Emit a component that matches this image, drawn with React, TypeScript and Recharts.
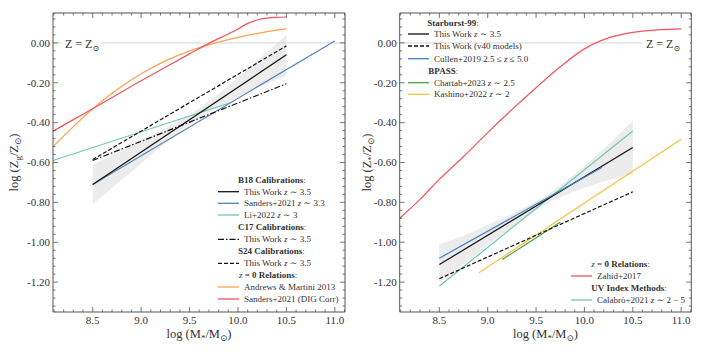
import React from 'react';
import { ComposedChart, Line, Area, XAxis, YAxis, ReferenceLine } from 'recharts';

// ---------- shared axes ----------
const xDomain: [number, number] = [8.09, 11.105];
const yDomain: [number, number] = [-1.35, 0.15];
const xMajorTicks = [8.5, 9.0, 9.5, 10.0, 10.5, 11.0];
const yMajorTicks = [-1.2, -1.0, -0.8, -0.6, -0.4, -0.2, 0.0];
const xMinorTicks = Array.from({ length: 31 }, (_, i) => Math.round((8.1 + i * 0.1) * 100) / 100);
const yMinorTicks = Array.from({ length: 37 }, (_, i) => Math.round((-1.32 + i * 0.04) * 100) / 100);

// ---------- left panel (gas-phase) ----------
const sandersDigX = [8.09, 8.3, 8.5, 8.75, 9.0, 9.25, 9.5, 9.75, 9.9, 10.0, 10.1, 10.2, 10.3, 10.4, 10.5];
const sandersDigY = [-0.443, -0.385, -0.33, -0.26, -0.19, -0.122, -0.055, 0.01, 0.045, 0.07, 0.098, 0.115, 0.124, 0.128, 0.13];
const andrewsX = [8.09, 8.3, 8.5, 8.75, 9.0, 9.25, 9.5, 9.75, 10.0, 10.25, 10.5];
const andrewsY = [-0.52, -0.42, -0.33, -0.235, -0.155, -0.09, -0.04, -0.002, 0.028, 0.052, 0.07];
const li2022X = [8.09, 9.92];
const li2022Y = [-0.59, -0.3];
const sanders33X = [8.5, 11.0];
const sanders33Y = [-0.71, 0.01];
const b18X = [8.5, 10.5];
const b18Y = [-0.71, -0.06];
const c17X = [8.5, 10.5];
const c17Y = [-0.59, -0.205];
const s24X = [8.5, 10.5];
const s24Y = [-0.585, -0.015];
const bandLeftX = [8.5, 8.75, 9.0, 9.25, 9.5, 9.6, 9.75, 10.0, 10.25, 10.5];
const bandLeftLo = [-0.81, -0.707, -0.605, -0.504, -0.411, -0.376, -0.334, -0.273, -0.215, -0.165];
const bandLeftHi = [-0.61, -0.551, -0.49, -0.428, -0.359, -0.328, -0.274, -0.173, -0.067, 0.04];

// ---------- right panel (stellar) ----------
const zahidX = [8.09, 8.3, 8.5, 8.75, 9.0, 9.25, 9.5, 9.75, 10.0, 10.25, 10.5, 10.75, 11.0];
const zahidY = [-0.88, -0.785, -0.685, -0.57, -0.45, -0.335, -0.225, -0.12, -0.03, 0.025, 0.053, 0.065, 0.07];
const sb99X = [8.5, 10.5];
const sb99Y = [-1.112, -0.525];
const v40X = [8.5, 10.5];
const v40Y = [-1.183, -0.747];
const cullenX = [8.5, 10.18];
const cullenY = [-1.08, -0.625];
const calabroX = [8.5, 10.5];
const calabroY = [-1.22, -0.442];
const kashinoX = [8.91, 11.0];
const kashinoY = [-1.153, -0.483];
const chartabX = [9.15, 9.75];
const chartabY = [-1.087, -0.9];
const bandRightX = [8.5, 8.75, 9.0, 9.25, 9.5, 9.6, 9.75, 10.0, 10.25, 10.5];
const bandRightLo = [-1.2, -1.111, -1.017, -0.926, -0.842, -0.811, -0.775, -0.727, -0.688, -0.66];
const bandRightHi = [-1.01, -0.967, -0.913, -0.858, -0.794, -0.767, -0.715, -0.617, -0.508, -0.39];

const C = {
  red: '#f0545e',
  orange: '#ffa24d',
  teal: '#72c4b4',
  blueL: '#5484b4',
  blueR: '#3f82c4',
  green: '#3ea63e',
  yellow: '#f6c344',
  black: '#111111',
  axis: '#555555',
  text: '#333333',
};
const FONT = '"Liberation Serif", "DejaVu Serif", serif';

const pts = (xs: number[], ys: number[]) => xs.map((x, i) => ({ x, y: ys[i] }));
const band = (xs: number[], lo: number[], hi: number[]) => xs.map((x, i) => ({ x, r: [lo[i], hi[i]] }));
const isMajor = (v: number, arr: number[]) => arr.some((m) => Math.abs(m - v) < 1e-6);

const MAJ = 5;
const MIN = 2.5;

const BottomTick = (p: any) => {
  const v = p.payload.value;
  const maj = isMajor(v, xMajorTicks);
  return (
    <g>
      <line x1={p.x} x2={p.x} y1={p.y} y2={p.y - (maj ? MAJ : MIN)} stroke={C.axis} strokeWidth={0.8} />
      {maj && (
        <text x={p.x} y={p.y + 11.5} textAnchor="middle" fontSize={11} fill={C.text} fontFamily={FONT}>
          {v.toFixed(1)}
        </text>
      )}
    </g>
  );
};
const TopTick = (p: any) => {
  const v = p.payload.value;
  const maj = isMajor(v, xMajorTicks);
  return <line x1={p.x} x2={p.x} y1={p.y} y2={p.y + (maj ? MAJ : MIN)} stroke={C.axis} strokeWidth={0.8} />;
};
const LeftTick = (p: any) => {
  const v = p.payload.value;
  const maj = isMajor(v, yMajorTicks);
  const label = Math.abs(v) < 1e-9 ? '0.00' : v.toFixed(2);
  return (
    <g>
      <line x1={p.x} x2={p.x + (maj ? MAJ : MIN)} y1={p.y} y2={p.y} stroke={C.axis} strokeWidth={0.8} />
      {maj && (
        <text x={p.x - 3} y={p.y + 3.8} textAnchor="end" fontSize={11} fill={C.text} fontFamily={FONT}>
          {label}
        </text>
      )}
    </g>
  );
};
const RightTick = (p: any) => {
  const v = p.payload.value;
  const maj = isMajor(v, yMajorTicks);
  return <line x1={p.x} x2={p.x - (maj ? MAJ : MIN)} y1={p.y} y2={p.y} stroke={C.axis} strokeWidth={0.8} />;
};

type Series = { data: { x: number; y: number }[]; color: string; dash?: string; curve?: boolean; w?: number };

function Panel(props: {
  left: number;
  margin: { top: number; right: number; bottom: number; left: number };
  bandData: any[];
  series: Series[];
}) {
  const { left, margin, bandData, series } = props;
  return (
    <div style={{ position: 'absolute', left, top: 0 }}>
      <ComposedChart width={353} height={353} margin={margin} data={bandData}>
        <XAxis xAxisId="b" type="number" dataKey="x" domain={xDomain} allowDataOverflow ticks={xMinorTicks} interval={0}
          orientation="bottom" height={1} tickSize={0} tickMargin={0} tickLine={false}
          axisLine={{ stroke: C.axis, strokeWidth: 1 }} tick={BottomTick} />
        <XAxis xAxisId="t" type="number" dataKey="x" domain={xDomain} allowDataOverflow ticks={xMinorTicks} interval={0}
          orientation="top" height={1} tickSize={0} tickMargin={0} tickLine={false}
          axisLine={{ stroke: C.axis, strokeWidth: 1 }} tick={TopTick} />
        <YAxis yAxisId="l" type="number" domain={yDomain} allowDataOverflow ticks={yMinorTicks} interval={0}
          orientation="left" width={1} tickSize={0} tickMargin={0} tickLine={false}
          axisLine={{ stroke: C.axis, strokeWidth: 1 }} tick={LeftTick} />
        <YAxis yAxisId="r" type="number" domain={yDomain} allowDataOverflow ticks={yMinorTicks} interval={0}
          orientation="right" width={1} tickSize={0} tickMargin={0} tickLine={false}
          axisLine={{ stroke: C.axis, strokeWidth: 1 }} tick={RightTick} />
        <ReferenceLine xAxisId="b" yAxisId="l" y={0} stroke="#cfcfcf" strokeWidth={0.9} />
        <Area xAxisId="b" yAxisId="l" dataKey="r" type="monotone" stroke="none" fill="#d9d9d9" fillOpacity={0.5}
          isAnimationActive={false} dot={false} activeDot={false} />
        {series.map((s, i) => (
          <Line key={i} xAxisId="b" yAxisId="l" data={s.data} dataKey="y" type={s.curve ? 'monotone' : 'linear'}
            stroke={s.color} strokeWidth={s.w ?? 1.2} strokeDasharray={s.dash} dot={false} activeDot={false}
            isAnimationActive={false} />
        ))}
      </ComposedChart>
    </div>
  );
}

const Sun = ({ size }: { size: number }) => (
  <tspan dy={size * 0.3} fontSize={size * 0.7}>⊙</tspan>
);

function LegendRow(p: { x: number; y: number; color: string; dash?: string; children: any }) {
  return (
    <g>
      <line x1={p.x} x2={p.x + 21} y1={p.y} y2={p.y} stroke={p.color} strokeWidth={1.3} strokeDasharray={p.dash} />
      <text x={p.x + 26} y={p.y + 3} fontSize={9} fill={C.text} fontFamily={FONT}>{p.children}</text>
    </g>
  );
}
function Header(p: { x: number; y: number; children: any }) {
  return (
    <text x={p.x} y={p.y + 3} fontSize={9} fill={C.text} fontFamily={FONT}>{p.children}</text>
  );
}
const I = ({ children }: any) => <tspan fontStyle="italic">{children}</tspan>;
const B = ({ children }: any) => <tspan fontWeight="bold">{children}</tspan>;

const DASH = '4 2';
const DASHDOT = '6 2 1.5 2';

export default function App() {
  const leftSeries: Series[] = [
    { data: pts(li2022X, li2022Y), color: C.teal },
    { data: pts(andrewsX, andrewsY), color: C.orange, curve: true },
    { data: pts(sandersDigX, sandersDigY), color: C.red, curve: true },
    { data: pts(sanders33X, sanders33Y), color: C.blueL },
    { data: pts(c17X, c17Y), color: C.black, dash: DASHDOT },
    { data: pts(s24X, s24Y), color: C.black, dash: DASH },
    { data: pts(b18X, b18Y), color: C.black },
  ];
  const rightSeries: Series[] = [
    { data: pts(zahidX, zahidY), color: C.red, curve: true },
    { data: pts(calabroX, calabroY), color: C.teal },
    { data: pts(chartabX, chartabY), color: C.green },
    { data: pts(kashinoX, kashinoY), color: C.yellow },
    { data: pts(v40X, v40Y), color: C.black, dash: DASH },
    { data: pts(sb99X, sb99Y), color: C.black },
    { data: pts(cullenX, cullenY), color: C.blueR },
  ];
  return (
    <div style={{ position: 'absolute', left: 0, top: 0, width: 706, height: 353, background: '#fff' }}>
      <Panel left={0} margin={{ top: 12, right: 7, bottom: 40, left: 52 }}
        bandData={band(bandLeftX, bandLeftLo, bandLeftHi)} series={leftSeries} />
      <Panel left={353} margin={{ top: 12, right: 13.7, bottom: 40, left: 45.7 }}
        bandData={band(bandRightX, bandRightLo, bandRightHi)} series={rightSeries} />
      <svg width={706} height={353} style={{ position: 'absolute', left: 0, top: 0, pointerEvents: 'none' }}
        fontFamily={FONT}>
        {/* Z = Zsun labels */}
        <rect x={61.5} y={36} width={39.5} height={15} fill="#fff" />
        <text x={65} y={47.5} fontSize={12} fill={C.text}>Z = Z<Sun size={12} /></text>
        <rect x={642} y={36} width={48} height={15} fill="#fff" />
        <text x={646} y={47.5} fontSize={12} fill={C.text}>Z = Z<Sun size={12} /></text>

        {/* axis labels */}
        <text x={199} y={337.5} textAnchor="middle" fontSize={12.5} fill={C.text}>
          log (M<tspan dy={3} fontSize={9}>*</tspan><tspan dy={-3}>/M</tspan><Sun size={12.5} /><tspan dy={-3.75}>)</tspan>
        </text>
        <text x={545.5} y={337.5} textAnchor="middle" fontSize={12.5} fill={C.text}>
          log (M<tspan dy={3} fontSize={9}>*</tspan><tspan dy={-3}>/M</tspan><Sun size={12.5} /><tspan dy={-3.75}>)</tspan>
        </text>
        <text transform="rotate(-90 17.5 162.5)" x={17.5} y={162.5} textAnchor="middle" fontSize={12.5} fill={C.text}>
          log (Z<tspan dy={3} fontSize={9}>g</tspan><tspan dy={-3}>/Z</tspan><Sun size={12.5} /><tspan dy={-3.75}>)</tspan>
        </text>
        <text transform="rotate(-90 370.5 162.5)" x={370.5} y={162.5} textAnchor="middle" fontSize={12.5} fill={C.text}>
          log (Z<tspan dy={3} fontSize={9}>*</tspan><tspan dy={-3}>/Z</tspan><Sun size={12.5} /><tspan dy={-3.75}>)</tspan>
        </text>

        {/* left legend */}
        <Header x={238} y={180}><B>B18 Calibrations</B>:</Header>
        <LegendRow x={218} y={191.7} color={C.black}>This Work <I>z</I> ∼ 3.5</LegendRow>
        <LegendRow x={218} y={203.3} color={C.blueL}>Sanders+2021 <I>z</I> ∼ 3.3</LegendRow>
        <LegendRow x={218} y={215} color={C.teal}>Li+2022 <I>z</I> ∼ 3</LegendRow>
        <Header x={238} y={227.3}><B>C17 Calibrations</B>:</Header>
        <LegendRow x={218} y={239.3} color={C.black} dash={DASHDOT}>This Work <I>z</I> ∼ 3.5</LegendRow>
        <Header x={238} y={251}><B>S24 Calibrations</B>:</Header>
        <LegendRow x={218} y={263.3} color={C.black} dash={DASH}>This Work <I>z</I> ∼ 3.5</LegendRow>
        <Header x={239} y={275.3}><I>z</I> = <B>0 Relations</B>:</Header>
        <LegendRow x={218} y={287} color={C.orange}>Andrews &amp; Martini 2013</LegendRow>
        <LegendRow x={218} y={299} color={C.red}>Sanders+2021 (DIG Corr)</LegendRow>

        {/* right top legend */}
        <Header x={427.3} y={22.7}><B>Starburst-99</B>:</Header>
        <LegendRow x={408} y={34} color={C.black}>This Work <I>z</I> ∼ 3.5</LegendRow>
        <LegendRow x={408} y={46} color={C.black} dash={DASH}>This Work (v40 models)</LegendRow>
        <LegendRow x={408} y={58.7} color={C.blueR}>Cullen+2019 2.5 ≤ <I>z</I> ≤ 5.0</LegendRow>
        <Header x={428.3} y={71}><B>BPASS</B>:</Header>
        <LegendRow x={408} y={82.7} color={C.green}>Chartab+2023 <I>z</I> ∼ 2.5</LegendRow>
        <LegendRow x={408} y={94.3} color={C.yellow}>Kashino+2022 <I>z</I> ∼ 2</LegendRow>

        {/* right bottom legend */}
        <Header x={591.3} y={264.3}><I>z</I> = <B>0 Relations</B>:</Header>
        <LegendRow x={571} y={276} color={C.red}>Zahid+2017</LegendRow>
        <Header x={591.3} y={288.3}><B>UV Index Methods</B>:</Header>
        <LegendRow x={571} y={300} color={C.teal}>Calabrò+2021 <I>z</I> ∼ 2 − 5</LegendRow>
      </svg>
    </div>
  );
}
